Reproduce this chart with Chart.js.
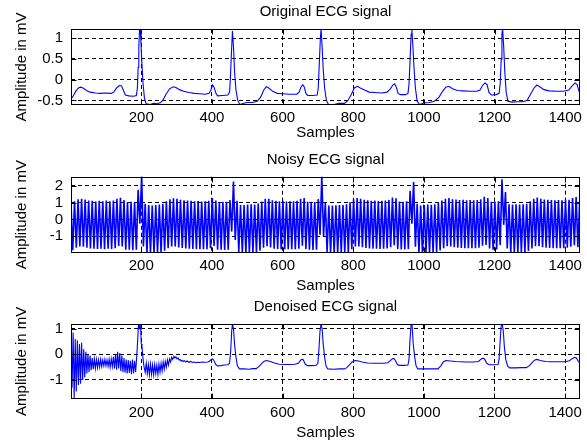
<!DOCTYPE html>
<html>
<head>
<meta charset="utf-8">
<script src="https://cdn.jsdelivr.net/npm/chart.js@4.4.1/dist/chart.umd.min.js"></script>
<style>
  html, body { margin: 0; padding: 0; background: #fff; }
  #figura { position: relative; width: 587px; height: 442px; }
  .panel { position: absolute; left: 0; width: 587px; }
</style>
</head>
<body>
<div id="figura">
  <div class="panel" style="top:0;height:144px"><canvas id="original"></canvas></div>
  <div class="panel" style="top:144px;height:153px"><canvas id="ruidosa"></canvas></div>
  <div class="panel" style="top:297px;height:145px"><canvas id="filtrada"></canvas></div>
</div>
<script>
// Datos: [muestra, mV]

const muestraMin = 1;
const muestraMax = 1442;
const ticksMuestras = [200, 400, 600, 800, 1000, 1200, 1400];

// Señal original
const ticksOriginal = [-0.5, 0, 0.5, 1];
const ecgOriginal = [
  [1,-0.47],[8,-0.38],[15,-0.27],[22,-0.2],[28,-0.18],[35,-0.2],[45,-0.26],[55,-0.3],[70,-0.32],[85,-0.33],
  [100,-0.32],[115,-0.33],[122,-0.3],[130,-0.2],[138,-0.14],[144,-0.15],[149,-0.25],[155,-0.37],[165,-0.39],
  [178,-0.4],[186,-0.38],[189,-0.2],[191,0.3],[193,0.8],[195,1.2],[197,1.22],[199,0.9],[202,0.35],[205,-0.1],
  [209,-0.45],[214,-0.58],[225,-0.6],[235,-0.57],[245,-0.58],[255,-0.55],[262,-0.48],[270,-0.35],[280,-0.22],
  [290,-0.17],[298,-0.19],[308,-0.24],[320,-0.28],[335,-0.31],[350,-0.33],[365,-0.34],[380,-0.35],[392,-0.33],
  [397,-0.25],[402,-0.13],[406,-0.18],[411,-0.32],[416,-0.39],[430,-0.38],[445,-0.37],[450,-0.3],[452,0.0],
  [455,0.6],[458,1.17],[461,0.8],[464,0.2],[468,-0.25],[473,-0.5],[479,-0.6],[490,-0.57],[500,-0.55],
  [515,-0.55],[528,-0.52],[538,-0.42],[546,-0.26],[554,-0.17],[561,-0.2],[572,-0.28],[585,-0.33],[600,-0.34],
  [620,-0.35],[640,-0.35],[647,-0.3],[652,-0.18],[657,-0.12],[661,-0.17],[666,-0.33],[671,-0.38],[685,-0.38],
  [698,-0.37],[701,-0.2],[704,0.4],[707,1.0],[709,1.22],[712,0.8],[715,0.25],[719,-0.2],[724,-0.5],[730,-0.6],
  [745,-0.6],[760,-0.57],[775,-0.57],[785,-0.5],[795,-0.35],[803,-0.2],[812,-0.16],[820,-0.2],[832,-0.25],
  [845,-0.3],[860,-0.31],[880,-0.32],[896,-0.3],[905,-0.22],[912,-0.13],[917,-0.1],[922,-0.18],[927,-0.33],
  [934,-0.36],[948,-0.36],[955,-0.33],[958,-0.1],[961,0.5],[964,1.1],[966,1.22],[969,0.8],[972,0.3],[976,-0.2],
  [981,-0.52],[988,-0.6],[1000,-0.56],[1015,-0.55],[1030,-0.52],[1043,-0.42],[1053,-0.28],[1062,-0.18],
  [1071,-0.16],[1081,-0.22],[1095,-0.26],[1110,-0.27],[1130,-0.28],[1150,-0.28],[1159,-0.25],[1166,-0.14],
  [1173,-0.08],[1179,-0.12],[1184,-0.3],[1191,-0.37],[1205,-0.36],[1213,-0.33],[1216,-0.1],[1219,0.5],
  [1221,1.1],[1223,1.22],[1226,0.8],[1229,0.2],[1233,-0.3],[1238,-0.52],[1250,-0.54],[1265,-0.53],[1280,-0.53],
  [1292,-0.5],[1302,-0.35],[1312,-0.2],[1320,-0.13],[1328,-0.17],[1340,-0.24],[1355,-0.27],[1375,-0.28],
  [1395,-0.28],[1410,-0.25],[1420,-0.15],[1428,-0.08],[1434,-0.12],[1438,-0.25],[1442,-0.34]
];

// Señal con ruido: crestas en 1, 11, 21... y valles en 6, 16, 26...
const ticksRuidosa = [-1, 0, 1, 2];
const primeraMuestraRuido = 1;
const pasoRuido = 5;
const crestasRuido = [
  0.95,1.08,1.2,1.22,1.18,1.12,1.1,1.06,1.1,1.08,1.12,1.07,1.12,1.22,1.28,1.15,1.02,1.05,1.0,1.75,
  2.6,0.92,0.85,0.82,0.86,0.88,0.92,1.08,1.2,1.25,1.22,1.16,1.13,1.12,1.1,1.08,1.09,1.06,1.08,1.1,
  1.26,1.12,1.03,1.05,1.04,1.15,2.25,1.1,0.85,0.86,0.88,0.9,0.88,0.94,1.06,1.22,1.23,1.14,1.1,1.08,
  1.1,1.06,1.08,1.07,1.1,1.22,1.27,1.04,1.05,1.03,1.2,2.6,1.0,0.83,0.82,0.84,0.85,0.86,0.9,1.02,
  1.2,1.26,1.22,1.17,1.13,1.1,1.12,1.09,1.1,1.12,1.15,1.3,1.25,1.06,1.05,1.08,1.7,2.22,0.92,0.82,
  0.86,0.88,0.87,0.9,0.98,1.12,1.23,1.27,1.2,1.18,1.15,1.16,1.13,1.15,1.14,1.15,1.2,1.34,1.27,1.05,
  1.06,1.08,2.38,1.62,0.9,0.88,0.9,0.88,0.9,0.92,1.07,1.22,1.3,1.23,1.18,1.16,1.15,1.14,1.15,1.13,
  1.16,1.17,1.27,1.32,1.08
];
const vallesRuido = [
  -1.82,-1.68,-1.6,-1.62,-1.68,-1.72,-1.74,-1.75,-1.74,-1.76,-1.74,-1.75,-1.7,-1.57,-1.6,-1.79,-1.8,-1.82,-1.8,-0.25,
  -1.6,-1.97,-2.0,-1.99,-2.0,-1.97,-1.85,-1.7,-1.6,-1.6,-1.66,-1.69,-1.72,-1.73,-1.75,-1.76,-1.76,-1.77,-1.76,-1.7,
  -1.57,-1.8,-1.8,-1.81,-1.79,-0.72,-1.22,-1.92,-1.99,-1.98,-1.97,-1.96,-1.95,-1.86,-1.68,-1.59,-1.66,-1.73,-1.75,-1.76,
  -1.77,-1.76,-1.77,-1.76,-1.74,-1.55,-1.75,-1.8,-1.81,-1.79,-0.9,-1.0,-1.93,-2.0,-2.0,-1.99,-1.98,-1.98,-1.92,-1.77,
  -1.6,-1.6,-1.64,-1.69,-1.72,-1.73,-1.74,-1.75,-1.74,-1.72,-1.64,-1.52,-1.75,-1.78,-1.78,-1.75,-0.25,-1.62,-1.97,-2.0,
  -1.98,-1.97,-1.95,-1.92,-1.84,-1.7,-1.59,-1.6,-1.65,-1.68,-1.69,-1.7,-1.7,-1.71,-1.7,-1.68,-1.55,-1.51,-1.72,-1.79,
  -1.78,-1.52,-0.32,-1.72,-1.95,-1.96,-1.95,-1.96,-1.95,-1.87,-1.72,-1.58,-1.58,-1.64,-1.67,-1.69,-1.7,-1.71,-1.7,-1.7,
  -1.68,-1.62,-1.52,-1.65
];

// Señal filtrada
const ticksFiltrada = [-1, 0, 1];
const ecgFiltrada = [
  [1,0.9],[4,-1.3],[7,0.85],[10,-1.72],[13,0.6],[16,-1.45],[19,0.55],[22,-1.2],[25,0.4],[28,-1.15],[31,0.45],
  [34,-1.0],[37,0.2],[40,-0.9],[43,0.1],[46,-0.75],[49,0.0],[52,-0.7],[55,-0.05],[58,-0.62],[61,-0.15],[64,-0.58],
  [67,-0.18],[70,-0.55],[73,-0.2],[76,-0.52],[79,-0.22],[82,-0.5],[85,-0.2],[88,-0.48],[91,-0.22],[94,-0.45],
  [97,-0.2],[100,-0.45],[103,-0.22],[106,-0.47],[109,-0.2],[112,-0.5],[115,-0.18],[118,-0.48],[121,-0.1],
  [124,-0.55],[127,0.0],[130,-0.6],[133,0.1],[136,-0.55],[139,0.05],[142,-0.65],[145,-0.05],[148,-0.7],
  [151,-0.15],[154,-0.72],[157,-0.2],[160,-0.75],[163,-0.22],[166,-0.72],[169,-0.25],[172,-0.78],[175,-0.2],
  [178,-0.75],[181,-0.25],[184,-0.7],[187,-0.1],[190,0.6],[192,1.18],[194,1.0],[196,1.18],[198,1.05],[200,0.4],
  [202,0.3],[205,-0.2],[208,-0.5],[211,-0.7],[214,-0.35],[217,-0.75],[220,-0.4],[223,-0.8],[226,-0.38],
  [229,-0.78],[232,-0.42],[235,-0.8],[238,-0.4],[241,-0.75],[244,-0.42],[247,-0.78],[250,-0.38],[253,-0.7],
  [256,-0.35],[259,-0.65],[262,-0.3],[265,-0.58],[268,-0.28],[271,-0.5],[274,-0.22],[277,-0.42],[280,-0.18],
  [283,-0.3],[286,-0.12],[289,-0.2],[292,-0.08],[295,-0.15],[298,-0.1],[301,-0.18],[304,-0.14],[307,-0.22],
  [310,-0.2],[313,-0.27],[316,-0.23],[319,-0.28],[322,-0.25],[326,-0.3],[330,-0.26],[335,-0.31],[340,-0.28],
  [345,-0.32],[350,-0.3],[355,-0.33],[360,-0.31],[365,-0.32],[372,-0.3],[380,-0.31],[388,-0.3],[393,-0.27],
  [398,-0.2],[402,-0.18],[406,-0.25],[411,-0.4],[416,-0.45],[425,-0.44],[435,-0.42],[445,-0.41],[450,-0.35],
  [453,0.1],[456,0.9],[458,1.18],[461,1.0],[464,0.4],[468,-0.1],[472,-0.45],[478,-0.57],[490,-0.57],[505,-0.58],
  [515,-0.56],[525,-0.56],[533,-0.48],[541,-0.35],[548,-0.27],[555,-0.24],[563,-0.27],[575,-0.33],[590,-0.39],
  [605,-0.4],[620,-0.4],[635,-0.39],[645,-0.35],[650,-0.25],[655,-0.19],[659,-0.22],[664,-0.38],[670,-0.44],
  [682,-0.44],[695,-0.43],[700,-0.35],[703,0.2],[706,0.9],[709,1.18],[712,1.0],[715,0.4],[719,-0.1],[723,-0.45],
  [728,-0.57],[745,-0.58],[760,-0.57],[775,-0.57],[782,-0.52],[790,-0.4],[797,-0.3],[805,-0.24],[812,-0.25],
  [825,-0.3],[840,-0.34],[855,-0.35],[870,-0.35],[885,-0.35],[898,-0.33],[905,-0.25],[911,-0.17],[915,-0.16],
  [920,-0.25],[925,-0.4],[930,-0.43],[945,-0.43],[955,-0.42],[958,-0.2],[961,0.6],[964,1.18],[967,1.1],
  [970,0.4],[974,-0.1],[978,-0.45],[983,-0.57],[1000,-0.57],[1020,-0.57],[1040,-0.57],[1048,-0.45],[1055,-0.3],
  [1062,-0.24],[1075,-0.26],[1090,-0.28],[1105,-0.29],[1120,-0.3],[1140,-0.3],[1155,-0.28],[1161,-0.2],
  [1167,-0.15],[1172,-0.18],[1178,-0.35],[1185,-0.41],[1200,-0.41],[1210,-0.4],[1213,-0.2],[1216,0.5],
  [1219,1.1],[1222,1.18],[1225,0.9],[1228,0.3],[1232,-0.2],[1237,-0.45],[1243,-0.53],[1260,-0.53],[1275,-0.52],
  [1290,-0.52],[1298,-0.45],[1306,-0.33],[1313,-0.23],[1320,-0.2],[1330,-0.24],[1345,-0.28],[1360,-0.29],
  [1380,-0.29],[1400,-0.29],[1412,-0.25],[1420,-0.17],[1427,-0.12],[1432,-0.14],[1437,-0.27],[1442,-0.36]
];

// Puntos de la señal ruidosa alternando crestas y valles
const puntosRuido = [];
crestasRuido.forEach((v, i) => {
  const base = primeraMuestraRuido + i * 2 * pasoRuido;
  puntosRuido.push([base, v]);
  if (i < vallesRuido.length) puntosRuido.push([base + pasoRuido, vallesRuido[i]]);
});

Chart.defaults.font.family = '"Liberation Sans", Arial, sans-serif';
Chart.defaults.font.size = 15;
Chart.defaults.color = '#000';

// Marco negro y marcas de tick hacia dentro (estilo MATLAB)
const marcoEjes = {
  id: 'marcoEjes',
  afterDraw(chart) {
    const { ctx, chartArea: a, scales } = chart;
    const l = Math.round(a.left) + 0.5, r = Math.round(a.right) - 0.5;
    const t = Math.round(a.top) + 0.5, b = Math.round(a.bottom) - 0.5;
    ctx.save();
    ctx.strokeStyle = '#000';
    ctx.lineWidth = 1;
    ctx.setLineDash([]);
    ctx.strokeRect(l, t, r - l, b - t);
    ctx.beginPath();
    scales.x.ticks.forEach(tk => {
      const px = Math.round(scales.x.getPixelForValue(tk.value)) + 0.5;
      ctx.moveTo(px, b); ctx.lineTo(px, b - 5);
      ctx.moveTo(px, t); ctx.lineTo(px, t + 5);
    });
    scales.y.ticks.forEach(tk => {
      const py = Math.round(scales.y.getPixelForValue(tk.value)) + 0.5;
      ctx.moveTo(l, py); ctx.lineTo(l + 5, py);
      ctx.moveTo(r, py); ctx.lineTo(r - 5, py);
    });
    ctx.stroke();
    ctx.restore();
  }
};

function crearPanel(id, titulo, puntos, yMin, yMax, yTicks, caja) {
  return new Chart(document.getElementById(id), {
    type: 'line',
    data: {
      datasets: [{
        data: puntos,
        borderColor: '#0000ff',
        borderWidth: caja.grosor,
        pointRadius: 0,
        tension: 0,
        clip: 0
      }]
    },
    options: {
      responsive: true,
      maintainAspectRatio: false,
      animation: false,
      parsing: { xAxisKey: 0, yAxisKey: 1 },
      layout: { padding: { left: 0, right: 7, top: 0, bottom: 0 } },
      plugins: {
        legend: { display: false },
        tooltip: { enabled: false },
        title: {
          display: true,
          text: titulo,
          fullSize: false,
          font: { size: 15, weight: 'normal' },
          padding: { top: caja.tituloArriba, bottom: caja.tituloAbajo }
        }
      },
      scales: {
        x: {
          type: 'linear',
          min: muestraMin,
          max: muestraMax,
          afterBuildTicks: s => { s.ticks = ticksMuestras.map(v => ({ value: v })); },
          afterFit: s => { s.height = caja.altoX; },
          ticks: { padding: caja.padTickX, maxRotation: 0, callback: v => String(v) },
          grid: { color: '#000', lineWidth: 1, drawTicks: false },
          border: { display: false, dash: [4, 3] },
          title: { display: true, text: 'Samples', padding: { top: 0, bottom: caja.padSamples } }
        },
        y: {
          min: yMin,
          max: yMax,
          afterBuildTicks: s => { s.ticks = yTicks.map(v => ({ value: v })); },
          afterFit: s => { s.width = 71; },
          ticks: { padding: 8, callback: v => String(v) },
          grid: { color: '#000', lineWidth: 1, drawTicks: false },
          border: { display: false, dash: [4, 3] },
          title: { display: true, text: 'Amplitude in mV', padding: { top: 13, bottom: 0 } }
        }
      }
    },
    plugins: [marcoEjes]
  });
}

crearPanel('original', 'Original ECG signal', ecgOriginal, -0.61, 1.22, ticksOriginal,
  { grosor: 1.1, tituloArriba: 3, tituloAbajo: 8, altoX: 39, padTickX: 4, padSamples: 2 });
crearPanel('ruidosa', 'Noisy ECG signal', puntosRuido, -1.97, 2.53, ticksRuidosa,
  { grosor: 1.6, tituloArriba: 7, tituloAbajo: 7.7, altoX: 44.3, padTickX: 4.3, padSamples: 2.3 });
crearPanel('filtrada', 'Denoised ECG signal', ecgFiltrada, -1.73, 1.18, ticksFiltrada,
  { grosor: 1.1, tituloArriba: 0.7, tituloAbajo: 8.3, altoX: 43.3, padTickX: 5, padSamples: 0.3 });
</script>
</body>
</html>
